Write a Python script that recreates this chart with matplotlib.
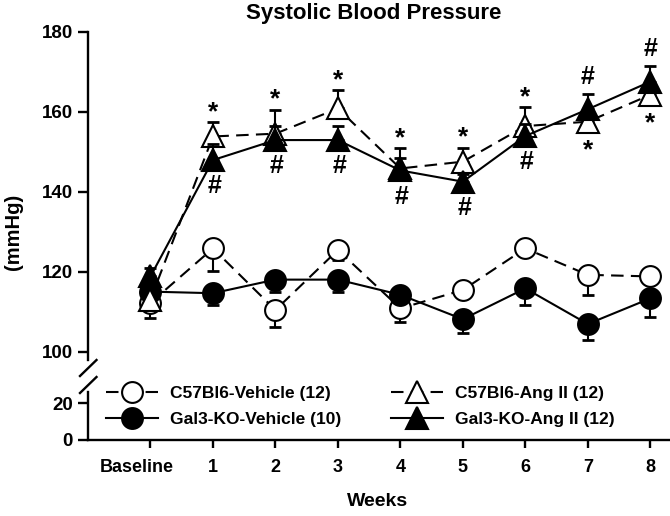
import numpy as np
import matplotlib
matplotlib.use('Agg')
import matplotlib.pyplot as plt
import matplotlib.transforms as mtransforms
from matplotlib.lines import Line2D

plt.rcParams['font.family'] = ['Liberation Sans', 'DejaVu Sans']
plt.rcParams['font.weight'] = 'bold'

weeks = ['Baseline', '1', '2', '3', '4', '5', '6', '7', '8']

# C57Bl6 vehicle (open circles), lower error bars
c57_veh = [112.2, 125.8, 110.4, 125.4, 110.8, 115.4, 125.8, 119.2, 118.8]
c57_veh_err = [3.8, 5.6, 4.3, 2.5, 3.5, 2.0, 2.0, 5.0, 2.0]
# Gal3-KO vehicle (filled circles)
gal3_veh = [115.0, 114.6, 118.0, 118.0, 114.2, 108.1, 115.8, 106.9, 113.3]
gal3_veh_err = [2.0, 2.9, 3.0, 3.0, 2.0, 3.4, 4.1, 4.0, 4.6]
# C57Bl6 Ang II (open triangles), upper error bars
c57_ang = [113.0, 153.8, 154.5, 160.8, 145.8, 147.5, 156.4, 157.5, 164.2]
c57_ang_err = [2.0, 3.5, 6.0, 4.5, 5.0, 3.5, 4.7, 2.0, 2.0]
# Gal3-KO Ang II (filled triangles)
gal3_ang = [118.8, 147.9, 152.9, 152.9, 145.3, 142.5, 153.9, 160.6, 167.5]
gal3_ang_err = [2.0, 4.0, 3.5, 3.5, 3.0, 2.0, 3.0, 3.8, 3.9]

# significance marks: '*' vs C57Bl6 vehicle, '#' vs Gal3-KO vehicle
star_side = [None, 'above', 'above', 'above', 'above', 'above', 'above', 'below', 'below']
hash_side = [None, 'below', 'below', 'below', 'below', 'below', 'below', 'above', 'above']

x = np.arange(len(weeks))
W, H = 670, 516
fig = plt.figure(figsize=(6.7, 5.16), dpi=100)


def fx(px):
    return px / W


def fy(py):
    return 1 - py / H


ax = fig.add_axes([fx(88), fy(360), fx(669) - fx(88), fy(31.7) - fy(360)])
axl = fig.add_axes([fx(88), fy(440), fx(669) - fx(88), fy(392) - fy(440)])

ms_c = 15
ms_t = 16.5
lw = 1.5
dash = (6, 3.5)

series = [
    (c57_veh, c57_veh_err, 'o', 'white', '--', 'C57Bl6-Vehicle (12)', 'low'),
    (gal3_veh, gal3_veh_err, 'o', 'black', '-', 'Gal3-KO-Vehicle (10)', 'low'),
    (c57_ang, c57_ang_err, '^', 'white', '--', 'C57Bl6-Ang II (12)', 'high'),
    (gal3_ang, gal3_ang_err, '^', 'black', '-', 'Gal3-KO-Ang II (12)', 'high'),
]
handles = []
for i, (vals, err, mk, fc, ls, lab, side) in enumerate(series):
    err = np.array(err)
    zero = np.zeros_like(err)
    yerr = [err, zero] if side == 'low' else [zero, err]
    ax.errorbar(x, vals, yerr=yerr, fmt='none', ecolor='black', elinewidth=1.5,
                capsize=4.3, capthick=2, zorder=2 + i * 2)
    ms = ms_c if mk == 'o' else ms_t
    line, = ax.plot(x, vals, color='black', lw=lw, ls=ls, marker=mk, ms=ms,
                    mfc=fc, mec='black', mew=1.5, zorder=3 + i * 2)
    if ls == '--':
        line.set_dashes(dash)
    h = Line2D([], [], color='black', lw=lw, ls=ls, marker=mk, ms=ms,
               mfc=fc, mec='black', mew=1.5)
    if ls == '--':
        h.set_dashes(dash)
    handles.append((h, lab))

# significance annotations
for i in range(len(weeks)):
    if star_side[i] == 'above':
        ax.annotate('*', (x[i], c57_ang[i] + c57_ang_err[i]), xytext=(0, -1.5),
                    textcoords='offset points', ha='center', va='bottom',
                    fontsize=19, zorder=20)
    elif star_side[i] == 'below':
        ax.annotate('*', (x[i], c57_ang[i]), xytext=(0, -29),
                    textcoords='offset points', ha='center', va='bottom',
                    fontsize=19, zorder=20)
    if hash_side[i] == 'below':
        ax.annotate('#', (x[i], gal3_ang[i]), xytext=(1, -19),
                    textcoords='offset points', ha='center', va='center',
                    fontsize=18, zorder=20)
    elif hash_side[i] == 'above':
        ax.annotate('#', (x[i], gal3_ang[i] + gal3_ang_err[i]), xytext=(0, 12),
                    textcoords='offset points', ha='center', va='center',
                    fontsize=18, zorder=20)

for a in (ax, axl):
    a.set_xlim(-1, 8.3)
    a.spines['top'].set_visible(False)
    a.spines['right'].set_visible(False)
    a.spines['left'].set_linewidth(1.7)
    a.spines['bottom'].set_linewidth(1.7)
    a.tick_params(axis='y', length=7, width=1.7, labelsize=13.5, pad=4)
    a.patch.set_alpha(0)

ax.set_ylim(97.9, 180)
ax.set_yticks([100, 120, 140, 160, 180])
ax.spines['bottom'].set_visible(False)
ax.set_xticks([])

axl.set_ylim(0, 26)
axl.set_yticks([0, 20])
axl.set_xticks(x)
axl.set_xticklabels(weeks)
axl.tick_params(axis='x', length=6, width=1.7, labelsize=13, pad=8)
for t in ax.get_yticklabels() + axl.get_yticklabels() + axl.get_xticklabels():
    t.set_fontweight('bold')
# the Baseline label sits a little left of its tick
base_lab = axl.get_xticklabels()[0]
base_lab.set_transform(base_lab.get_transform() +
                       mtransforms.ScaledTranslation(-14 / 100, 0, fig.dpi_scale_trans))

# axis break marks
for py in (368, 385):
    fig.add_artist(Line2D([fx(80), fx(96.5)], [fy(py + 8), fy(py - 8)],
                          color='black', lw=1.7))

leg_kw = dict(loc='upper left', bbox_transform=fig.transFigure, frameon=False,
              fontsize=12.5, handlelength=3.0, handletextpad=0.7,
              labelspacing=0.6, borderpad=0, borderaxespad=0)
leg1 = axl.legend([h for h, _ in handles[:2]], [l for _, l in handles[:2]],
                  bbox_to_anchor=(fx(106), fy(386)), **leg_kw)
axl.add_artist(leg1)
axl.legend([h for h, _ in handles[2:]], [l for _, l in handles[2:]],
           bbox_to_anchor=(fx(391), fy(386)), **leg_kw)

fig.text(fx(374), fy(14), 'Systolic Blood Pressure', ha='center', va='center',
         fontsize=16, fontweight='bold')
fig.text(fx(378), fy(502), 'Weeks', ha='center', va='center',
         fontsize=14, fontweight='bold')
fig.text(fx(13), fy(232), '(mmHg)', ha='center', va='center', rotation=90,
         fontsize=14.5, fontweight='bold')

fig.savefig('out.png', dpi=100)
